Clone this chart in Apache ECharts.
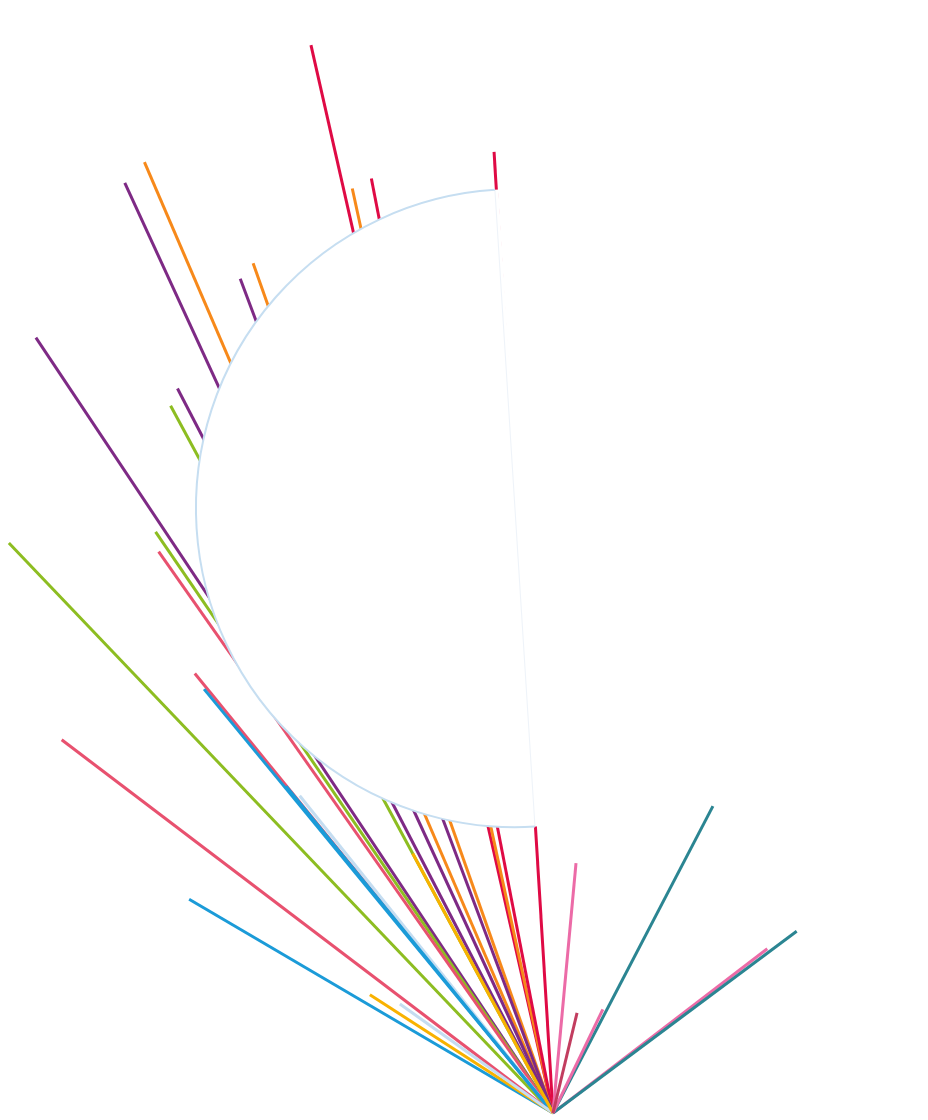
<!DOCTYPE html>
<html>
<head>
<meta charset="utf-8">
<script src="https://cdn.jsdelivr.net/npm/echarts@6/dist/echarts.min.js"></script>
<style>
  html, body { margin: 0; padding: 0; background: #fff; }
  #main { width: 928px; height: 1120px; }
</style>
</head>
<body>
<div id="main"></div>
<script>
// rays: group, angle (deg, counter-clockwise from east), length
var rayGroup  = ['crimson', 'crimson', 'orange', 'crimson', 'orange', 'purple', 'orange', 'purple', 'purple', 'purple',
                 'green', 'green', 'green', 'rose', 'rose', 'rose', 'sky', 'blue', 'blue', 'blue',
                 'amber', 'sky', 'amber', 'pink', 'teal', 'teal', 'pink', 'pink', 'maroon'];
var rayAngle  = [102.77, 93.51, 102.25, 101.0, 113.25, 114.72, 109.44, 110.55, 123.7, 117.4,
                 118.4, 133.67, 124.37, 125.09, 129.18, 142.78, 128.6, 129.46, 129.23, 149.57,
                 147.14, 144.53, 118.4, 37.47, 36.72, 62.47, 64.32, 84.74, 76.5];
var rayLength = [1095, 963, 946, 952, 1035, 1024, 901, 891, 932, 816,
                 804, 788, 704, 686, 567, 617, 406, 549, 422, 422,
                 218, 188, 295, 270, 304, 346, 115, 251, 103];

// the white half disc that sits over the rays
var discDist = 606, discAngle = 93.6, discRadius = 319;

var palette = {
    crimson: '#df0a45',
    orange: '#f7891a',
    purple: '#7e2a85',
    green: '#8dbd21',
    rose: '#e8516f',
    blue: '#1b9bd8',
    sky: '#c5ddf1',
    amber: '#f9b200',
    teal: '#2b8592',
    pink: '#ec6ba7',
    maroon: '#c23d5f'
};

var myChart = echarts.init(document.getElementById('main'));

var series = rayAngle.map(function (a, i) {
    return {
        type: 'line',
        name: rayGroup[i],
        coordinateSystem: 'polar',
        data: [[0, a], [rayLength[i], a]],
        symbol: 'none',
        silent: true,
        lineStyle: { color: palette[rayGroup[i]], width: 3 },
        z: 2
    };
});

myChart.setOption({
    backgroundColor: '#fff',
    animation: false,
    polar: { center: [553, 1113], radius: 1200 },
    angleAxis: { type: 'value', min: 0, max: 360, startAngle: 0, clockwise: false, show: false },
    radiusAxis: { type: 'value', min: 0, max: 1200, show: false },
    series: series
});

// place the half disc through the polar scale
var c = myChart.convertToPixel({ polarIndex: 0 }, [discDist, discAngle]);
var e = myChart.convertToPixel({ polarIndex: 0 }, [discDist + discRadius, discAngle]);
var r = Math.sqrt((e[0] - c[0]) * (e[0] - c[0]) + (e[1] - c[1]) * (e[1] - c[1]));
var rad = Math.PI / 180;
var start = -(discAngle + 180) * rad;
var end = -discAngle * rad;
var chord = {
    x1: c[0] + r * Math.cos(start), y1: c[1] + r * Math.sin(start),
    x2: c[0] + r * Math.cos(end), y2: c[1] + r * Math.sin(end)
};

myChart.setOption({
    graphic: [
        {
            type: 'sector',
            z: 10,
            silent: true,
            shape: { cx: c[0], cy: c[1], r: r, startAngle: start, endAngle: end, clockwise: true },
            style: { fill: '#fff' }
        },
        {
            // white band along the diameter hides the ray running under it
            type: 'line',
            z: 10,
            silent: true,
            shape: chord,
            style: { stroke: '#fff', lineWidth: 7, lineCap: 'butt' }
        },
        {
            type: 'line',
            z: 11,
            silent: true,
            shape: chord,
            style: { stroke: '#eef3f9', lineWidth: 1 }
        },
        {
            type: 'arc',
            z: 11,
            silent: true,
            shape: { cx: c[0], cy: c[1], r: r, startAngle: start, endAngle: end, clockwise: true },
            style: { fill: null, stroke: '#c6def1', lineWidth: 2 }
        }
    ]
});
</script>
</body>
</html>
